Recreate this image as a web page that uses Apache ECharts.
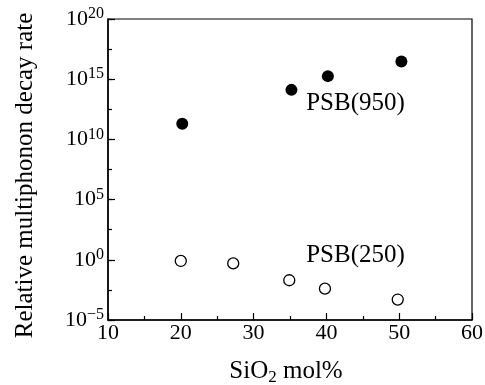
<!DOCTYPE html>
<html><head><meta charset="utf-8">
<script src="https://cdn.jsdelivr.net/npm/echarts@6/dist/echarts.min.js"></script>
<style>html,body{margin:0;padding:0;background:#fff}#c{width:485px;height:385px}</style>
</head><body><div id="c"></div>
<script>
// Data (x: SiO2 mol%, y: relative multiphonon decay rate)
const psb950X = [20.2, 35.2, 40.2, 50.3];
const psb950Y = [2.0e11, 1.3e14, 1.8e15, 2.9e16];
const psb250X = [20.0, 27.2, 34.9, 39.8, 49.8];
const psb250Y = [0.8, 0.5, 0.02, 0.004, 0.0005];
const labelTexts = ['PSB(950)', 'PSB(250)'];
const labelX = [44.0, 44.0];
const labelY = [9e12, 2.2];

const F = "'Liberation Serif', 'Times New Roman', serif";
const chart = echarts.init(document.getElementById('c'), null, {renderer: 'canvas'});
function supLabel(v) {
  const l = Math.log10(v);
  const e = Math.round(l);
  if (Math.abs(l - e) > 0.01 || e % 5 !== 0) return '';
  return '{b|10}{s|' + (e < 0 ? '\u2212' + (-e) : e) + '}';
}
chart.setOption({
  animation: false,
  grid: {left: 108, right: 13, top: 19, bottom: 65, containLabel: false, outerBoundsMode: 'none',
    show: true, borderColor: '#000', borderWidth: 1.2, backgroundColor: 'transparent'},
  xAxis: {
    type: 'value', min: 10, max: 60, interval: 10,
    name: '{a|SiO}{sub|2}{a| mol%}', nameLocation: 'middle', nameGap: 37,
    nameTextStyle: {padding: [0, 8, 0, 0], rich: {a: {fontFamily: F, fontSize: 25, color: '#000'}, sub: {fontFamily: F, fontSize: 17, color: '#000', padding: [12, 0, 0, 0]}}},
    axisLine: {show: true, onZero: false, lineStyle: {color: '#000', width: 1.5}},
    axisTick: {show: true, inside: true, length: 7, lineStyle: {color: '#000', width: 1.2}},
    minorTick: {show: true, splitNumber: 2, length: 4, lineStyle: {color: '#000', width: 1.2}},
    axisLabel: {fontFamily: F, fontSize: 22, color: '#000', margin: 2},
    splitLine: {show: false}
  },
  yAxis: [{
    type: 'log', logBase: 10, min: 1e-5, max: 1e20, interval: 5,
    name: 'Relative multiphonon decay rate', nameLocation: 'middle', nameGap: 70,
    nameTextStyle: {fontFamily: F, fontSize: 25, color: '#000', padding: [0, 12, 0, 0]},
    axisLine: {show: true, onZero: false, lineStyle: {color: '#000', width: 1.5}},
    axisTick: {show: true, inside: true, length: 7, lineStyle: {color: '#000', width: 1.2}},
    axisLabel: {formatter: supLabel, margin: 4,
      rich: {b: {fontFamily: F, fontSize: 22, color: '#000'}, s: {fontFamily: F, fontSize: 16, color: '#000', padding: [0, 0, 10, 0]}}},
    splitLine: {show: false}
  }, {
    type: 'log', logBase: 10, min: 1e-5, max: 1e20, interval: 2.5, position: 'left',
    axisLine: {show: false},
    axisTick: {show: true, inside: true, length: 4, lineStyle: {color: '#000', width: 1.2}},
    axisLabel: {show: false},
    splitLine: {show: false}
  }],
  series: [{
    type: 'scatter', yAxisIndex: 0,
    data: psb950X.map((x, i) => [x, psb950Y[i]]),
    symbol: 'circle', symbolSize: 12,
    itemStyle: {color: '#000', opacity: 1}
  }, {
    type: 'scatter', yAxisIndex: 0,
    data: psb250X.map((x, i) => [x, psb250Y[i]]),
    symbol: 'circle', symbolSize: 11,
    itemStyle: {color: '#fff', borderColor: '#000', borderWidth: 1.3, opacity: 1}
  }, {
    type: 'scatter', yAxisIndex: 0,
    data: labelX.map((x, i) => [x, labelY[i], labelTexts[i]]),
    symbolSize: 0, silent: true,
    itemStyle: {opacity: 1},
    label: {show: true, position: 'inside', formatter: p => p.data[2], fontFamily: F, fontSize: 25, color: '#000', textBorderWidth: 0, textBorderColor: 'transparent'}
  }]
});
</script></body></html>
